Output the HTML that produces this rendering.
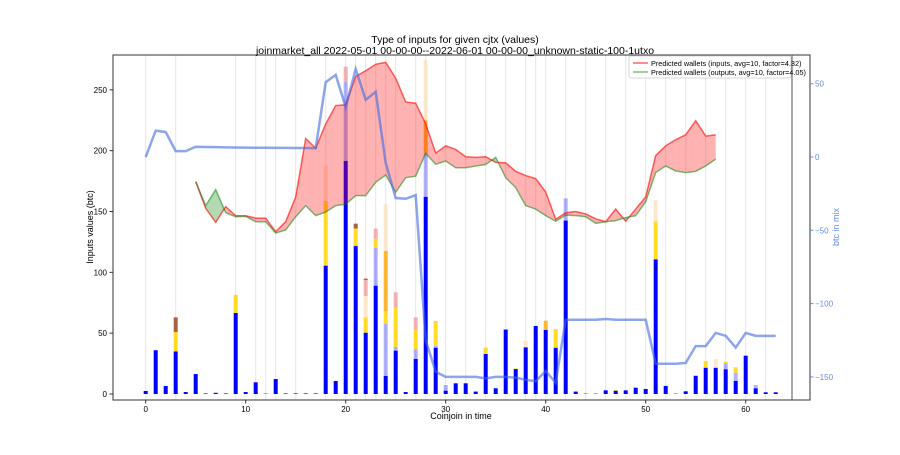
<!DOCTYPE html>
<html><head><meta charset="utf-8"><style>
body{margin:0;background:#fff}
svg text{font-family:"Liberation Sans",sans-serif}
</style></head><body>
<svg id="chart" width="900" height="450" xmlns="http://www.w3.org/2000/svg">
<rect width="900" height="450" fill="#fff"/>
<g id="grid"></g>
<g id="bars"></g>
<g id="fills"></g>
<g id="lines"></g>
<g id="axes"></g>
<text x="455" y="43" font-size="10.5" text-anchor="middle">Type of inputs for given cjtx (values)</text>
<text x="455" y="54" font-size="10.5" text-anchor="middle">joinmarket_all 2022-05-01 00-00-00--2022-06-01 00-00-00_unknown-static-100-1utxo</text>
<text x="461" y="419" font-size="9" text-anchor="middle">Coinjoin in time</text>
<text transform="translate(93,227) rotate(-90)" font-size="9" text-anchor="middle">Inputs values (btc)</text>
<text transform="translate(839,227) rotate(-90)" font-size="9" fill="#6a8be8" text-anchor="middle">btc in mix</text>
<g>
<rect x="629" y="56" width="162" height="22" fill="#fff" fill-opacity="0.85" stroke="#ccc" stroke-width="0.8" rx="2"/>
<line x1="633" y1="63" x2="648" y2="63" stroke="#ff0000" stroke-opacity="0.6" stroke-width="1.5"/>
<text x="651" y="66" font-size="7.3">Predicted wallets (inputs, avg=10, factor=4.32)</text>
<line x1="633" y1="72" x2="648" y2="72" stroke="#008000" stroke-opacity="0.5" stroke-width="1.5"/>
<text x="651" y="75" font-size="7.3">Predicted wallets (outputs, avg=10, factor=4.05)</text>
</g>
</svg>
<script>
const xIdx=[...Array(64).keys()];
const blueVals=[2.5,36,6.6,35,1.6,16.4,0.5,1,0.5,66.6,1.6,9.6,0.3,12.3,0.5,0.5,0.5,0.5,105.5,10.7,191.5,121.6,50.4,89,14.8,35.6,1.6,28.8,162,38,2.7,8.8,8.8,2,32.9,4.7,53,20.5,38.4,55.9,52.6,38,142.5,2,0.3,0.3,3,2.7,3,5.2,4.1,110.7,6.6,0.3,2.2,15,21.6,21.6,20.3,10.7,31.5,4.7,1.4,1.4];
const lightBlueVals={20:65,23:31,24:42.7,25:3,27:7.9,28:36,29:1.7,30:4.7,42:18.3,58:4.9,59:6.8,61:2.7};
const goldVals={3:16,9:14.8,18:53.1,21:14.4,22:12.6,23:7.4,24:10.7,25:32.4,27:16.3,29:20.3,34:5.1,37:0.5,41:15.4,47:0.6,51:31.3,56:5.5,58:1.4,59:4.5};
const orangeVals={24:49.3,28:27,40:7.7};
const wheatVals={18:29.4,22:17.5,24:38.5,28:49.5,38:5.2,51:17.5,55:0.6,57:7.2};
const pinkVals={20:12.5,22:13.2,23:8.6,25:12.6,27:10};
const brownVals={3:12,21:4,22:1.1};
const redVals=[null,null,null,null,null,174.5,152.6,141,154,146.5,146.5,144.6,144.6,133.4,141.6,162,210,202,222,237,237.7,261,265.7,271,272.6,259.5,240,239,222,198,204,201,195,194.5,195,190.4,190,183,179.5,177,166,143.6,149,150,148,144,141.6,152,142,152,162,196,204,209,213,224.6,212,213];
const greenVals=[null,null,null,null,null,174.5,154.8,168,149,145.7,146,141.6,141.6,132.3,134.8,145.7,154.8,146.6,149.5,154.8,156,163,163,174,180,165.8,177.8,179,197.8,188.8,191.5,186,186,187.4,188.6,194.5,177.8,169.6,154.8,152,146.6,142,147,146.6,145.7,140.3,141.6,142.5,145,146.6,158,182,187.4,183.3,182,183,187.4,193];
const mixVals=[0,18,17,4,4,7,6.8,6.7,6.6,6.5,6.4,6.3,6.3,6.2,6.2,6.1,6.1,6,51,56,34,60,39,44.5,-4,-28,-28.5,-26,-125,-146.5,-150,-150,-150,-150,-151,-150,-150,-150.5,-152,-153,-146,-154,-111,-111,-111,-111,-110.5,-111,-111,-111,-111,-141,-141,-141,-140.5,-129,-129,-120,-122,-130,-120,-122,-122,-122];
const xTicks=[0,10,20,30,40,50,60];
const yTicks=[0,50,100,150,200,250];
const y2Ticks=[50,0,-50,-100,-150];
const gridX=[0,3,9,11,12,13,15,18,20,21,22,23,24,25,27,28,30,32,34,36,38,39,40,42,44,46,48,50,52,54,56,58,60,62];

const X=v=>145.7+v*10.0;
const Y=v=>394-v*1.2167;
const Y2=v=>157-v*1.466;
const NS="http://www.w3.org/2000/svg";
function mk(parent,tag,attrs){const e=document.createElementNS(NS,tag);for(const k in attrs)e.setAttribute(k,attrs[k]);parent.appendChild(e);return e;}
const grid=document.getElementById('grid');
gridX.forEach(g=>{const l=mk(grid,'line',{x1:X(g),x2:X(g),y1:55,y2:400,stroke:'#e6e6e6','stroke-width':1});

});

const bars=document.getElementById('bars');
const layers=[[null,'#0000ff',1],[lightBlueVals,'#0000ff',0.3],[goldVals,'#ffd700',0.85],[orangeVals,'#ffa500',0.8],[wheatVals,'#fbe3c0',0.8],[pinkVals,'#f08080',0.6],[brownVals,'#a0522d',0.9]];
xIdx.forEach(i=>{let base=0;layers.forEach(([src,col,op])=>{const v=src===null?blueVals[i]:(src[i]||0);if(!v)return;
const r=mk(bars,'rect',{x:X(i)-2,width:4,y:Y(base+v),height:Y(base)-Y(base+v),fill:col,'fill-opacity':op});


base+=v;});});

const fills=document.getElementById('fills');
for(let i=0;i<redVals.length-1;i++){const r0=redVals[i],r1=redVals[i+1],g0=greenVals[i],g1=greenVals[i+1];if(r0==null||r1==null)continue;
const d0=r0-g0,d1=r1-g1;const segs=[];
if(d0*d1<0){const t=d0/(d0-d1);const xm=i+t,ym=r0+(r1-r0)*t;segs.push([[i,r0],[xm,ym],[i,g0],d0]);segs.push([[xm,ym],[i+1,r1],[i+1,g1],d1]);}
else segs.push([[i,r0],[i+1,r1],[i+1,g1],[i,g0],d0+d1]);
segs.forEach(s=>{const sign=s.pop();const p=mk(fills,'polygon',{points:s.map(q=>X(q[0])+','+Y(q[1])).join(' '),fill:sign>=0?'#ff0000':'#008000','fill-opacity':sign>=0?0.3:0.3});

});}

const lines=document.getElementById('lines');
function path(vals,f){return vals.map((v,i)=>v==null?null:[X(i),f(v)]).filter(Boolean).map((p,k)=>(k?'L':'M')+p[0]+','+p[1]).join('');}
const rl=mk(lines,'path',{d:path(redVals,Y),fill:'none',stroke:'#ff0000','stroke-opacity':0.6,'stroke-width':1.5});


const gl=mk(lines,'path',{d:path(greenVals,Y),fill:'none',stroke:'#008000','stroke-opacity':0.5,'stroke-width':1.5});


const ml=mk(lines,'path',{d:path(mixVals,Y2),fill:'none',stroke:'#4169e1','stroke-opacity':0.6,'stroke-width':2.5});



const axes=document.getElementById('axes');
const fr=mk(axes,'rect',{x:113,y:55,width:697,height:345,fill:'none',stroke:'#333','stroke-width':1});


const vl=mk(axes,'line',{x1:792,x2:792,y1:55,y2:400,stroke:'#555','stroke-width':1});


xTicks.forEach(t=>{mk(axes,'line',{x1:X(t),x2:X(t),y1:400,y2:403.5,stroke:'#333'});
const tx=mk(axes,'text',{x:X(t),y:412,'font-size':8,'text-anchor':'middle'});tx.textContent=t;

});
yTicks.forEach(t=>{mk(axes,'line',{x1:109.5,x2:113,y1:Y(t),y2:Y(t),stroke:'#333'});
const tx=mk(axes,'text',{x:107,y:Y(t)+3,'font-size':8,'text-anchor':'end'});tx.textContent=t;

});
y2Ticks.forEach(t=>{mk(axes,'line',{x1:810,x2:813.5,y1:Y2(t),y2:Y2(t),stroke:'#6a8be8'});
const tx=mk(axes,'text',{x:815,y:Y2(t)+3,'font-size':8,fill:'#6a8be8'});tx.textContent=t<0?'\u2212'+(-t):t;

});
</script>
</body></html>
